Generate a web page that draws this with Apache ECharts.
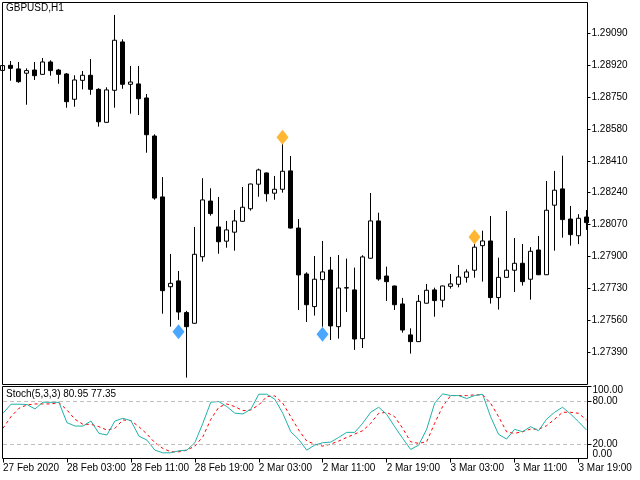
<!DOCTYPE html>
<html><head><meta charset="utf-8">
<script src="https://cdn.jsdelivr.net/npm/echarts@6/dist/echarts.min.js"></script>
<style>html,body{margin:0;padding:0;background:#fff}#c{width:640px;height:480px}</style>
</head><body><div id="c"></div>
<script>
// trading sessions (day, first hour, last hour) -> hourly category labels
const sessions = [['27 Feb', 19, 23], ['28 Feb', 0, 23], ['2 Mar', 0, 23], ['3 Mar', 0, 20]];
const categories = [];
sessions.forEach(s => { for (let h = s[1]; h <= s[2]; h++) categories.push(s[0] + ' ' + (h < 10 ? '0' : '') + h + ':00'); });

const xTickLabels = ['27 Feb 2020', '28 Feb 03:00', '28 Feb 11:00', '28 Feb 19:00', '2 Mar 03:00',
  '2 Mar 11:00', '2 Mar 19:00', '3 Mar 03:00', '3 Mar 11:00', '3 Mar 19:00'];
const priceTicks = [1.27390, 1.27560, 1.27730, 1.27900, 1.28070, 1.28240, 1.28410, 1.28580, 1.28750, 1.28920, 1.29090];
const stochLevelTicks = [20, 80];
const stochEdgeTicks = [0, 100];

const opens = [1.28892,1.28919,1.28900,1.28877,1.28894,1.28871,1.28937,1.28894,1.28873,1.28738,
  1.28839,1.28866,1.28791,1.28615,1.28786,1.29044,1.28818,1.28820,1.28745,1.28542,
  1.28217,1.27738,1.27769,1.27600,1.27543,1.27898,1.28195,1.28057,1.27981,1.28029,
  1.28087,1.28154,1.28285,1.28345,1.28237,1.28258,1.28356,1.28051,1.27806,1.27632,
  1.27776,1.27827,1.27525,1.27731,1.27721,1.27461,1.27890,1.28089,1.27795,1.27742,
  1.27646,1.27481,1.27445,1.27650,1.27721,1.27666,1.27740,1.27751,1.27788,1.27826,
  1.27957,1.27982,1.27680,1.27788,1.27826,1.27863,1.27778,1.27934,1.27802,1.28173,
  1.28260,1.28099,1.28010,1.28110];
const highs = [1.28926,1.28942,1.28937,1.28903,1.28937,1.28958,1.28946,1.28900,1.28878,1.28866,
  1.28889,1.28953,1.28797,1.28802,1.29188,1.29058,1.28916,1.28916,1.28766,1.28551,
  1.28323,1.27913,1.27822,1.27609,1.28057,1.28317,1.28263,1.28217,1.28089,1.28147,
  1.28270,1.28288,1.28368,1.28347,1.28329,1.28499,1.28435,1.28099,1.27815,1.27902,
  1.27982,1.27897,1.27907,1.27888,1.27840,1.27906,1.28238,1.28133,1.27845,1.27744,
  1.27678,1.27516,1.27694,1.27753,1.27733,1.27744,1.27806,1.27854,1.27831,1.27966,
  1.28037,1.28115,1.27893,1.28142,1.27998,1.27966,1.27949,1.28009,1.28302,1.28356,
  1.28437,1.28169,1.28125,1.28147];
const lows = [1.28884,1.28837,1.28826,1.28709,1.28841,1.28869,1.28864,1.28821,1.28693,1.28698,
  1.28791,1.28762,1.28592,1.28613,1.28693,1.28794,1.28661,1.28654,1.28453,1.28202,
  1.27594,1.27525,1.27561,1.27253,1.27541,1.27872,1.28117,1.27914,1.27946,1.27930,
  1.28085,1.28144,1.28218,1.28192,1.28202,1.28240,1.28049,1.27614,1.27550,1.27584,
  1.27525,1.27454,1.27461,1.27603,1.27401,1.27411,1.27888,1.27770,1.27662,1.27614,
  1.27493,1.27381,1.27443,1.27648,1.27578,1.27628,1.27728,1.27735,1.27760,1.27786,
  1.27765,1.27648,1.27616,1.27786,1.27710,1.27744,1.27669,1.27800,1.27800,1.27930,
  1.28000,1.27957,1.27965,1.28041];
const closes = [1.28918,1.28903,1.28832,1.28891,1.28864,1.28937,1.28891,1.28871,1.28725,1.28841,
  1.28866,1.28791,1.28618,1.28788,1.29053,1.28818,1.28830,1.28741,1.28549,1.28211,
  1.27717,1.27756,1.27603,1.27525,1.27911,1.28201,1.28128,1.27978,1.28041,1.28089,
  1.28162,1.28286,1.28361,1.28234,1.28258,1.28354,1.28051,1.27801,1.27642,1.27778,
  1.27817,1.27529,1.27731,1.27733,1.27459,1.27897,1.28089,1.27779,1.27765,1.27642,
  1.27507,1.27445,1.27660,1.27719,1.27664,1.27742,1.27753,1.27790,1.27817,1.27949,
  1.27982,1.27680,1.27788,1.27826,1.27863,1.27765,1.27927,1.27802,1.28146,1.28253,
  1.28096,1.28016,1.28103,1.28080];

const sellSignals = [[35, 1.28535], [59, 1.28003]];
const buySignals = [[22, 1.27498], [40, 1.27484]];

const stochMain = [62.8,75.4,75.4,75,68.8,78.2,78,78,49.8,45.1,
  45,52.1,34.9,32.6,52.1,55.8,52.6,31.2,25.6,11.6,
  7.9,7.9,10.7,11.6,21.9,48.9,78.2,79.1,72.1,63,
  61.9,68.4,89.3,89.3,82.4,62.8,37.2,26.5,11.6,18.6,
  21.9,22.8,29.3,36.3,36.3,48.9,64.2,71.2,61.4,44.2,
  28.0,12.6,18.6,40.5,76.8,89.8,87.4,87.4,83.3,87.4,
  89.3,58.1,33.5,27.0,40.5,37.2,44.2,38.6,54.5,64.2,
  71.2,61.9,51.1,39.5];
const stochSignal = [41.9,58.1,69.8,74.4,75.8,75.8,75.8,77.6,67.4,54.5,
  47.5,47.5,44.2,39.5,41.9,53.5,52.6,44.2,34.0,21.9,
  14.0,9.3,9.3,11.6,17.2,30.2,54.5,71.2,75.8,72.1,
  66.5,67.4,74.4,86.0,87.0,76.8,58.1,39.5,24.2,20.0,
  17.2,20.0,24.2,29.3,34.0,38.6,48.9,62.8,64.2,58.1,
  41.9,23.2,21.0,23.2,48.9,72.1,87.4,87.4,87.4,88.4,
  88.4,76.8,58.1,37.2,34.9,37.2,40.9,40.5,45.5,54.5,
  64.2,64.2,62.8,53.5];

const ohlc = opens.map((o, i) => [o, closes[i], lows[i], highs[i]]);
const FONT = '"Liberation Sans", Arial, sans-serif';

const chart = echarts.init(document.getElementById('c'), null, {renderer: 'canvas'});
chart.setOption({
  animation: false,
  backgroundColor: '#fff',
  textStyle: {fontFamily: FONT},
  title: [
    {text: 'GBPUSD,H1', left: 6, top: 3, padding: 0, textStyle: {fontSize: 10, fontWeight: 'normal', color: '#000', fontFamily: FONT}},
    {text: 'Stoch(5,3,3) 80.95 77.35', left: 6, top: 389, padding: 0, textStyle: {fontSize: 10, fontWeight: 'normal', color: '#000', fontFamily: FONT}}
  ],
  grid: [
    {left: 2.5, top: 2, width: 584, height: 382},
    {left: 2.5, top: 386.5, width: 584, height: 72},
    {left: 2.5, top: 390.7, width: 584, height: 63.3}
  ],
  xAxis: [
    {gridIndex: 0, type: 'category', data: categories, boundaryGap: false, show: false},
    {gridIndex: 1, type: 'category', data: categories, boundaryGap: false,
      axisLine: {show: false},
      axisTick: {show: true, interval: 7, length: 4, lineStyle: {color: '#000'}},
      axisLabel: {interval: 7, align: 'left', margin: 5, fontSize: 10, color: '#000', fontFamily: FONT,
        formatter: (v, i) => xTickLabels[Math.round(i / 8)] || ''},
      splitLine: {show: false}},
    {gridIndex: 2, type: 'category', data: categories, boundaryGap: false, show: false}
  ],
  yAxis: [
    {gridIndex: 0, type: 'value', position: 'right', offset: 1, min: 1.27219, max: 1.29257,
      axisLine: {show: false}, splitLine: {show: false},
      axisTick: {show: true, length: 3, customValues: priceTicks, lineStyle: {color: '#000'}},
      axisLabel: {customValues: priceTicks, margin: 4, fontSize: 10, color: '#000', fontFamily: FONT,
        formatter: v => v.toFixed(5)}},
    {gridIndex: 1, type: 'value', position: 'right', offset: 1, min: 0, max: 100,
      axisLine: {show: false}, splitLine: {show: false},
      axisTick: {show: true, length: 4, customValues: [20, 80, 100], lineStyle: {color: '#000'}},
      axisLabel: {customValues: stochLevelTicks, margin: 5, fontSize: 10, color: '#000', fontFamily: FONT,
        formatter: v => v.toFixed(2)}},
    {gridIndex: 2, type: 'value', position: 'right', offset: 1, min: 0, max: 100,
      axisLine: {show: false}, splitLine: {show: false}, axisTick: {show: false},
      axisLabel: {customValues: stochEdgeTicks, margin: 5, fontSize: 10, color: '#000', fontFamily: FONT,
        formatter: v => v.toFixed(2)}}
  ],
  graphic: [
    {type: 'rect', silent: true, z: 100, shape: {x: 2.5, y: 2.5, width: 585, height: 382},
      style: {fill: 'none', stroke: '#000', lineWidth: 1}},
    {type: 'rect', silent: true, z: 100, shape: {x: 2.5, y: 386.5, width: 585, height: 72},
      style: {fill: 'none', stroke: '#000', lineWidth: 1}}
  ],
  series: [
    {type: 'candlestick', xAxisIndex: 0, yAxisIndex: 0, data: ohlc, barWidth: 4, clip: false,
      itemStyle: {color: '#fff', color0: '#000', borderColor: '#000', borderColor0: '#000', borderColorDoji: '#000', borderWidth: 1}},
    {type: 'scatter', xAxisIndex: 0, yAxisIndex: 0, data: sellSignals, symbol: 'diamond', symbolSize: [12, 15],
      itemStyle: {color: '#FFA500'}, z: 5},
    {type: 'scatter', xAxisIndex: 0, yAxisIndex: 0, data: buySignals, symbol: 'diamond', symbolSize: [12, 15],
      itemStyle: {color: '#1E90FF'}, z: 5},
    {type: 'line', xAxisIndex: 1, yAxisIndex: 1, data: stochSignal, showSymbol: false, symbol: 'none',
      lineStyle: {color: '#FF0000', width: 1, type: [3, 3]},
      markLine: {silent: true, symbol: ['none', 'none'], label: {show: false},
        lineStyle: {color: '#C0C0C0', width: 1, type: [4, 3]},
        data: [{yAxis: 80}, {yAxis: 20}]}},
    {type: 'line', xAxisIndex: 1, yAxisIndex: 1, data: stochMain, showSymbol: false, symbol: 'none',
      lineStyle: {color: '#20B2AA', width: 1}}
  ]
});
</script></body></html>
